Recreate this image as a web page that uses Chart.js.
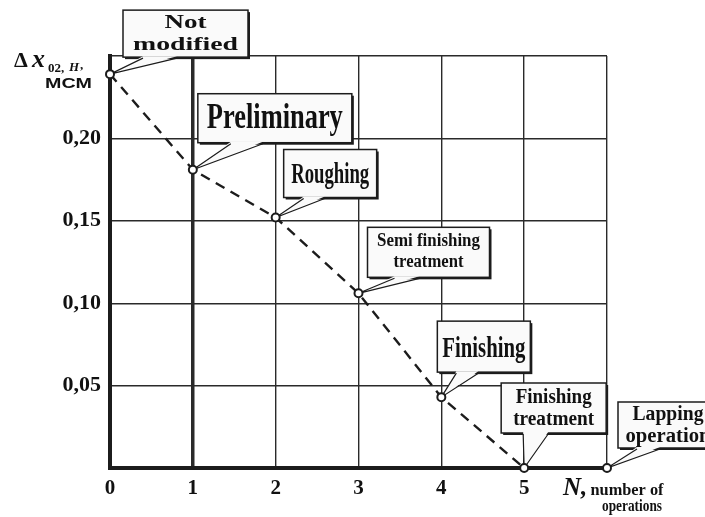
<!DOCTYPE html>
<html>
<head>
<meta charset="utf-8">
<script src="https://cdn.jsdelivr.net/npm/chart.js@4"></script>
<style>
  body { margin: 0; background: #fff; }
  canvas { display: block; }
</style>
</head>
<body>
<canvas id="chart" width="705" height="517"></canvas>
<script>
// data
const operations = [0, 1, 2, 3, 4, 5];
const deviation = [0.239, 0.181, 0.152, 0.106, 0.043, 0];
const lappingX = [6];
const lappingY = [0];
const stageNames = [
    ['Not', 'modified'],
    ['Preliminary'],
    ['Roughing'],
    ['Semi finishing', 'treatment'],
    ['Finishing'],
    ['Finishing', 'treatment'],
    ['Lapping', 'operation']
];
const xTickLabels = ['0', '1', '2', '3', '4', '5'];
const yTickLabels = ['0,05', '0,10', '0,15', '0,20'];

// callout layout: offset of the box from its point, size, tail base, font
const calloutStyle = [
    { dx: 13, dy: -64, w: 125, h: 47, t: [20, 54], size: 19, widths: [42, 105], base: [18, 40] },
    { dx: 5, dy: -76, w: 154, h: 49, t: [33, 65], size: 36, widths: [136], base: [34] },
    { dx: 8, dy: -68, w: 93, h: 48, t: [20, 41], size: 29, widths: [78], base: [33] },
    { dx: 9, dy: -66, w: 122, h: 50, t: [27, 52], size: 18, widths: [103, 70], base: [19, 40] },
    { dx: -4, dy: -76, w: 93, h: 51, t: [19, 41], size: 30, widths: [83], base: [36] },
    { dx: -23, dy: -85, w: 105, h: 50, t: [22, 47], size: 20, widths: [76, 81], base: [20, 42] },
    { dx: 11, dy: -66, w: 100, h: 46, t: [19, 42], size: 20, widths: [71, 85], base: [18, 40] }
];

const ink = '#1c1c1c';
const serifB = (s) => 'bold ' + s + 'px "Liberation Serif", "DejaVu Serif", serif';

function fitText(ctx, str, cx, y, font, w) {
    ctx.font = font;
    const m = ctx.measureText(str).width;
    ctx.save();
    ctx.translate(cx, y);
    ctx.scale(w / m, 1);
    ctx.textAlign = 'center';
    ctx.textBaseline = 'alphabetic';
    ctx.fillText(str, 0, 0);
    ctx.restore();
}

const calloutPlugin = {
    id: 'callouts',
    beforeDatasetsDraw(chart) {
        const ctx = chart.ctx;
        const pts = chart.getDatasetMeta(0).data.concat(chart.getDatasetMeta(1).data);
        ctx.save();
        stageNames.forEach((lines, i) => {
            const st = calloutStyle[i];
            const p = pts[i];
            const bx = p.x + st.dx, by = p.y + st.dy;
            // shadow + box
            ctx.fillStyle = ink;
            ctx.fillRect(bx + 2, by + 2, st.w, st.h);
            ctx.fillStyle = '#fafafa';
            ctx.strokeStyle = ink;
            ctx.lineWidth = 1.5;
            ctx.fillRect(bx, by, st.w, st.h);
            ctx.strokeRect(bx, by, st.w, st.h);
            // tail
            ctx.beginPath();
            ctx.moveTo(bx + st.t[0], by + st.h - 1);
            ctx.lineTo(p.x, p.y);
            ctx.lineTo(bx + st.t[1], by + st.h - 1);
            ctx.closePath();
            ctx.fillStyle = '#fafafa';
            ctx.fill();
            ctx.beginPath();
            ctx.moveTo(bx + st.t[0], by + st.h + 1);
            ctx.lineTo(p.x, p.y);
            ctx.lineTo(bx + st.t[1], by + st.h + 1);
            ctx.lineWidth = 1.2;
            ctx.stroke();
            // text
            ctx.fillStyle = '#111';
            lines.forEach((ln, k) => {
                fitText(ctx, ln, bx + st.w / 2, by + st.base[k], serifB(st.size), st.widths[k]);
            });
        });
        ctx.restore();
    },
    afterDraw(chart) {
        const ctx = chart.ctx;
        const a = chart.chartArea;
        ctx.save();
        ctx.fillStyle = '#111';
        ctx.textAlign = 'left';
        ctx.textBaseline = 'alphabetic';
        // y axis title
        const L = a.left, T = a.top;
        ctx.font = serifB(22);
        ctx.fillText('\u0394', L - 96, T + 11);
        ctx.font = 'italic ' + serifB(26);
        ctx.fillText('x', L - 78, T + 11);
        ctx.font = serifB(13);
        ctx.fillText('02,', L - 62, T + 16);
        ctx.font = 'italic ' + serifB(13);
        ctx.fillText('H', L - 41, T + 15);
        ctx.font = serifB(13);
        ctx.fillText(',', L - 30, T + 13);
        ctx.save();
        ctx.font = 'bold 14px "Liberation Sans", Arial, sans-serif';
        const mw = ctx.measureText('MCM').width;
        ctx.translate(L - 65, T + 32);
        ctx.scale(47 / mw, 1);
        ctx.fillText('MCM', 0, 0);
        ctx.restore();
        // x axis title
        const R = a.right, B = a.bottom;
        ctx.font = 'italic ' + serifB(25);
        ctx.fillText('N,', R - 44, B + 27);
        fitText(ctx, 'number of', R + 20, B + 27, serifB(16), 73);
        fitText(ctx, 'operations', R + 25, B + 43, serifB(16), 60);
        ctx.restore();
    }
};

new Chart(document.getElementById('chart'), {
    type: 'scatter',
    data: {
        datasets: [{
            data: operations.map((x, i) => ({ x: x, y: deviation[i] })),
            showLine: true,
            borderColor: ink,
            borderWidth: 2.4,
            borderDash: [10, 7],
            pointRadius: 4,
            pointBorderWidth: 2,
            pointBackgroundColor: '#fff',
            pointBorderColor: ink,
            clip: false
        }, {
            data: lappingX.map((x, i) => ({ x: x, y: lappingY[i] })),
            showLine: false,
            pointRadius: 4,
            pointBorderWidth: 2,
            pointBackgroundColor: '#fff',
            pointBorderColor: ink,
            clip: false
        }]
    },
    options: {
        responsive: false,
        animation: false,
        layout: { padding: { top: 56, right: 98, left: 0, bottom: 0 } },
        plugins: { legend: { display: false }, tooltip: { enabled: false } },
        scales: {
            x: {
                type: 'linear',
                min: 0,
                max: 6,
                ticks: {
                    stepSize: 1,
                    padding: 8,
                    color: '#111',
                    font: { family: '"Liberation Serif", serif', size: 21, weight: 'bold' },
                    callback: (v) => xTickLabels[v] !== undefined ? xTickLabels[v] : ''
                },
                grid: {
                    color: '#2a2a2a',
                    lineWidth: (c) => c.tick && c.tick.value === 1 ? 3.5 : 1.4,
                    drawTicks: false
                },
                border: { display: true, width: 4, color: ink },
                afterFit: (s) => { s.height = 49; }
            },
            y: {
                min: 0,
                max: 0.25,
                ticks: {
                    stepSize: 0.05,
                    padding: 9,
                    color: '#111',
                    font: { family: '"Liberation Serif", serif', size: 22, weight: 'bold' },
                    callback: (v) => {
                        const k = Math.round(v / 0.05) - 1;
                        return yTickLabels[k] !== undefined ? yTickLabels[k] : '';
                    }
                },
                grid: { color: '#2a2a2a', lineWidth: 1.4, drawTicks: false },
                border: { display: true, width: 4, color: ink },
                afterFit: (s) => { s.width = 110; }
            }
        }
    },
    plugins: [calloutPlugin]
});
</script>
</body>
</html>
